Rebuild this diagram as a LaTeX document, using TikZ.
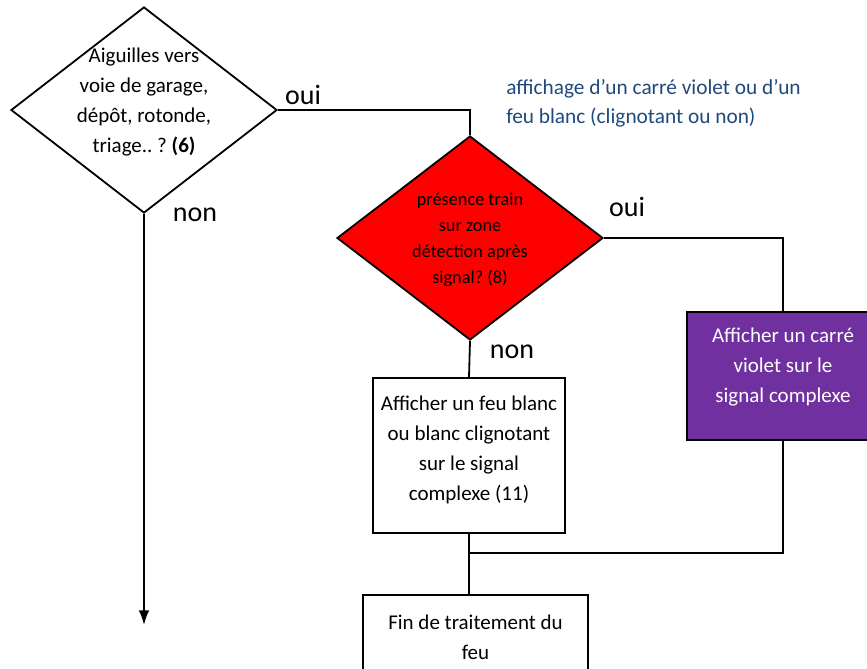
\documentclass[tikz,border=0pt]{standalone}
\usepackage{fontspec}
\setmainfont{Carlito}
\usetikzlibrary{arrows.meta, shapes.geometric, positioning}
\definecolor{signalRed}{HTML}{FF0000}
\definecolor{signalViolet}{HTML}{7030A0}
\definecolor{noteBlue}{HTML}{1F497D}
\tikzset{
    decisionNode/.style={diamond, draw, line width=1.35pt, aspect=1.3, align=center},
    actionNode/.style={rectangle, draw, line width=1.35pt, inner sep=2pt, align=center, font=\fontsize{15.75}{22.5}\selectfont},
    flowEdge/.style={line width=1.35pt},
    flowArrow/.style={-{Latex[length=11pt, width=8pt]}, line width=1.35pt},
    answerLabel/.style={font=\fontsize{21}{25}\selectfont, inner sep=0pt},
}

\begin{document}
\frenchspacing
\begin{tikzpicture}[x=0.75pt, y=-0.75pt]
    \clip (0,0) rectangle (867,668);

    % (6) aiguilles
    \node[decisionNode, fill=white, inner sep=-8pt, text depth=15pt, minimum width=199.5pt, minimum height=154.5pt, font=\fontsize{15.75}{22.5}\selectfont] (Q6) at (144,110) {Aiguilles vers\\voie de garage,\\dépôt, rotonde,\\triage.. ? \textbf{(6)}};

    % (8) presence train
    \node[decisionNode, fill=signalRed, inner sep=0pt, text depth=-4pt, minimum width=199.5pt, minimum height=153pt, font=\fontsize{13.7}{19.5}\selectfont] (Q8) at (470,238) {présence train\\sur zone\\détection après\\signal? (8)};

    % actions
    \node[actionNode, text depth=11.5pt, minimum width=144pt, minimum height=116.25pt] (blanc) at (469,455.5) {Afficher un feu blanc\\ou blanc clignotant\\sur le signal\\complexe (11)};
    \node[actionNode, fill=signalViolet, text=white, text depth=16pt, minimum width=144pt, minimum height=96pt] (violet) at (783,376) {Afficher un carré\\violet sur le\\signal complexe};
    \node[actionNode, minimum width=168.75pt, minimum height=63.75pt] (fin) at (475.5,637.5) {Fin de traitement du\\feu};

    \coordinate (jonction) at (469,553);
    \coordinate (sortie) at (144,625);

    % liaisons
    \draw[flowEdge] (Q6.east) -| (Q8.north);
    \draw[flowEdge] (Q8.east) -| (violet.north);
    \draw[flowEdge] (Q8.south) -- (blanc.north);
    \draw[flowEdge] (blanc.south) -- (blanc.south |- fin.north);
    \draw[flowEdge] (violet.south) |- (jonction);
    \draw[flowArrow] (Q6.south) -- (sortie);

    % reponses
    \node[answerLabel] (oui6) at (303,95) {oui};
    \node[answerLabel] (non6) at (195,215) {non};
    \node[answerLabel] (oui8) at (627,207) {oui};
    \node[answerLabel] (non8) at (512,352) {non};

    \node[anchor=west, text=noteBlue, align=left, inner sep=0pt, font=\fontsize{16}{22}\selectfont] (note) at (506,103) {affichage d’un carré violet ou d’un\\feu blanc (clignotant ou non)};
\end{tikzpicture}
\end{document}
